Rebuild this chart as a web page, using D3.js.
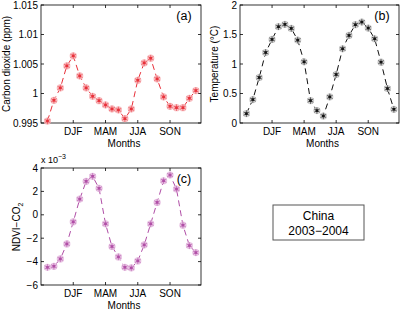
<!DOCTYPE html>
<html>
<head>
<meta charset="utf-8">
<script src="https://cdn.jsdelivr.net/npm/d3@7"></script>
<style>
  body { margin: 0; background: #fff; }
  text { font-family: "Liberation Sans", Arial, sans-serif; fill: #000; }
</style>
</head>
<body>
<svg id="fig" width="401" height="313"></svg>
<script>
var months = d3.range(1, 25);
var seasonTicks = [5, 10, 15, 20];
var seasonLabels = ["DJF", "MAM", "JJA", "SON"];

var co2 = [0.99534, 0.99885, 1.00095, 1.00468, 1.00638, 1.00298, 1.00095, 0.99953,
           0.99879, 0.99806, 0.99738, 0.99721, 0.99574, 0.99738, 1.00225, 1.00519,
           1.00598, 1.00247, 0.99942, 0.99783, 0.99760, 0.99760, 0.99919, 1.00050];
var co2Ticks = [0.995, 1, 1.005, 1.01, 1.015];
var co2TickLabels = ["0.995", "1", "1.005", "1.01", "1.015"];

var temp = [0.159, 0.397, 0.771, 1.195, 1.416, 1.632, 1.671, 1.603, 1.405, 1.037, 0.380, 0.210,
            0.119, 0.442, 0.822, 1.258, 1.484, 1.666, 1.711, 1.609, 1.428, 1.031, 0.584, 0.232];
var tempTicks = [0, 0.5, 1, 1.5, 2];
var tempTickLabels = ["0", "0.5", "1", "1.5", "2"];

var ndvi = [-4.49, -4.40, -3.77, -2.49, -0.60, 1.34, 2.86, 3.29, 2.26, -0.77, -2.71, -3.60,
            -4.49, -4.54, -3.94, -2.57, -0.77, 1.06, 2.91, 3.40, 2.20, -0.89, -2.63, -3.23];
var ndviTicks = [-6, -4, -2, 0, 2, 4];
var ndviTickLabels = ["\u22126", "\u22124", "\u22122", "0", "2", "4"];

var svg = d3.select("#fig");
svg.append("rect").attr("width", 401).attr("height", 313).attr("fill", "#fff");

function panel(o) {
    var x = d3.scaleLinear().domain([0, 24.8]).range([o.x0, o.x1]);
    var y = d3.scaleLinear().domain(o.ydom).range([o.y1, o.y0]);
    var g = svg.append("g");

    // box
    g.append("rect").attr("x", o.x0).attr("y", o.y0)
     .attr("width", o.x1 - o.x0).attr("height", o.y1 - o.y0)
     .attr("fill", "none").attr("stroke", "#000").attr("stroke-width", 0.8);

    // ticks inward, all four sides
    var tl = 3;
    o.yticks.forEach(function (t, i) {
        var yy = y(t);
        g.append("line").attr("x1", o.x0).attr("x2", o.x0 + tl).attr("y1", yy).attr("y2", yy)
         .attr("stroke", "#000").attr("stroke-width", 0.8);
        g.append("line").attr("x1", o.x1).attr("x2", o.x1 - tl).attr("y1", yy).attr("y2", yy)
         .attr("stroke", "#000").attr("stroke-width", 0.8);
        g.append("text").attr("x", o.x0 - 3).attr("y", yy + 3.5)
         .attr("text-anchor", "end").attr("font-size", 10).text(o.ylabels[i]);
    });
    seasonTicks.forEach(function (t, i) {
        var xx = x(t);
        g.append("line").attr("x1", xx).attr("x2", xx).attr("y1", o.y1).attr("y2", o.y1 - tl)
         .attr("stroke", "#000").attr("stroke-width", 0.8);
        g.append("line").attr("x1", xx).attr("x2", xx).attr("y1", o.y0).attr("y2", o.y0 + tl)
         .attr("stroke", "#000").attr("stroke-width", 0.8);
        g.append("text").attr("x", xx).attr("y", o.y1 + 12)
         .attr("text-anchor", "middle").attr("font-size", 10).text(seasonLabels[i]);
    });

    g.append("text").attr("x", (o.x0 + o.x1) / 2 + 3).attr("y", o.y1 + 24)
     .attr("text-anchor", "middle").attr("font-size", 10).text("Months");

    g.append("text").attr("x", o.x1 - 17).attr("y", o.y0 + 15)
     .attr("text-anchor", "middle").attr("font-size", 12.5).text(o.tag);

    // dashed line
    var line = d3.line().x(function (d, i) { return x(months[i]); }).y(function (d) { return y(d); });
    g.append("path").attr("d", line(o.data)).attr("fill", "none")
     .attr("stroke", o.color).attr("stroke-width", 1).attr("stroke-dasharray", "6,4");

    // markers: asterisk with halo
    var star = d3.symbol().type(d3.symbolAsterisk).size(30);
    var pts = g.selectAll("g.pt").data(o.data).enter().append("g")
     .attr("transform", function (d, i) { return "translate(" + x(months[i]) + "," + y(d) + ")"; });
    pts.append("circle").attr("r", 3.6).attr("fill", o.halo).attr("opacity", 0.9);
    pts.append("path").attr("d", star()).attr("fill", "none")
     .attr("stroke", o.color).attr("stroke-width", 0.8).attr("opacity", 0.7);
    pts.append("rect").attr("x", -1.3).attr("y", -1.3).attr("width", 2.6).attr("height", 2.6)
     .attr("fill", o.color);
    return g;
}

var ga = panel({ x0: 41, x1: 201, y0: 5, y1: 123, ydom: [0.995, 1.015],
    yticks: co2Ticks, ylabels: co2TickLabels, data: co2, color: "#e8303a", halo: "#f7b5b8", tag: "(a)" });
ga.append("text").attr("transform", "translate(10,64) rotate(-90)")
  .attr("text-anchor", "middle").attr("font-size", 10).text("Carbon dioxide (ppm)");

var gb = panel({ x0: 240, x1: 399, y0: 5, y1: 123, ydom: [0, 2],
    yticks: tempTicks, ylabels: tempTickLabels, data: temp, color: "#111", halo: "#c8c8c8", tag: "(b)" });
gb.append("text").attr("transform", "translate(218,64) rotate(-90)")
  .attr("text-anchor", "middle").attr("font-size", 10).text("Temperature (\u00B0C)");

var gc = panel({ x0: 41, x1: 201, y0: 168, y1: 285, ydom: [-6, 4],
    yticks: ndviTicks, ylabels: ndviTickLabels, data: ndvi, color: "#b04ea6", halo: "#e5bde0", tag: "(c)" });
var lab = gc.append("text").attr("transform", "translate(20,227) rotate(-90)")
  .attr("text-anchor", "middle").attr("font-size", 10);
lab.append("tspan").text("NDVI\u2212CO");
lab.append("tspan").attr("font-size", 7).attr("dy", 3).text("2");
var ex = gc.append("text").attr("x", 41).attr("y", 163).attr("font-size", 9);
ex.append("tspan").text("x 10");
ex.append("tspan").attr("font-size", 7).attr("dy", -4).text("\u22123");

// info box
svg.append("rect").attr("x", 273).attr("y", 205).attr("width", 91).attr("height", 35)
   .attr("fill", "#fff").attr("stroke", "#555").attr("stroke-width", 1);
svg.append("text").attr("x", 318.5).attr("y", 220).attr("text-anchor", "middle")
   .attr("font-size", 12).text("China");
svg.append("text").attr("x", 318.5).attr("y", 235).attr("text-anchor", "middle")
   .attr("font-size", 12).text("2003\u22122004");
</script>
</body>
</html>
